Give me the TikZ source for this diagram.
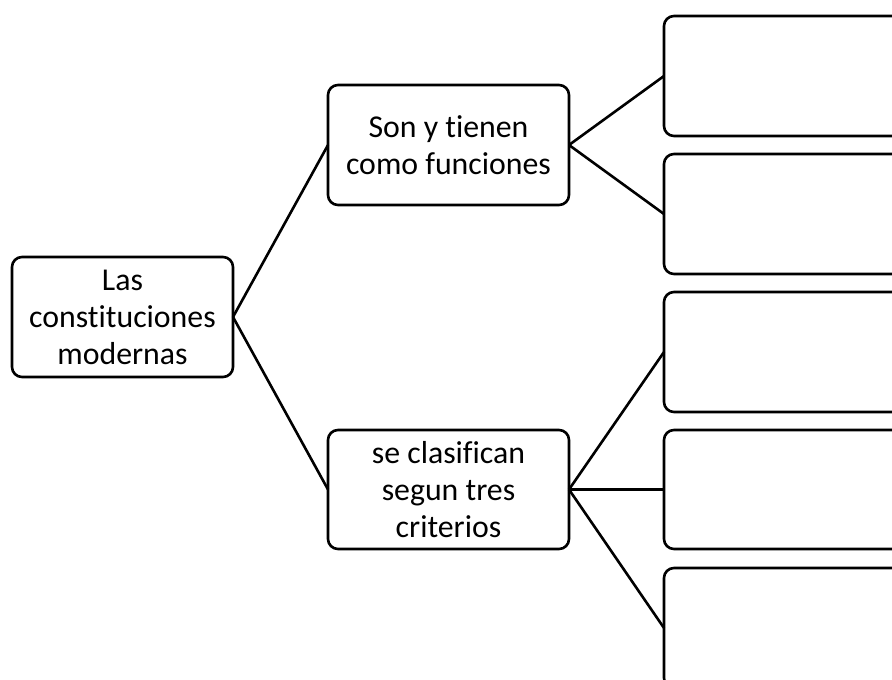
\documentclass[tikz,border=0pt]{standalone}
\usepackage{fontspec}
\setmainfont{Carlito}[Ligatures={NoCommon,NoContextual,NoRequired},RawFeature=-calt]
\begin{document}
\begin{tikzpicture}[x=1pt,y=-1pt,
  box/.style={draw=black, line width=2.6pt, rounded corners=10pt, fill=white,
    minimum width=#1, minimum height=120pt, inner sep=0pt, outer sep=0pt,
    align=center, font=\fontsize{31.8}{37}\selectfont},
  box/.default=241pt,
  conn/.style={draw=black, line width=2.6pt}]
\useasboundingbox (0,0) rectangle (892,680);
\clip (0,0) rectangle (892,680);
\fill[white] (0,0) rectangle (892,680);
\node[box=221pt] (root) at (122.5,317) {Las\\constituciones\\modernas};
\node[box] (top) at (448.5,145) {Son y tienen\\como funciones};
\node[box, minimum height=119pt] (bot) at (448.5,489.5) {se clasifican\\segun tres\\criterios};
\node[box=260pt] (r1) at (794,76) {};
\node[box=260pt] (r2) at (794,214) {};
\node[box=260pt] (r3) at (794,352) {};
\node[box=260pt, minimum height=119pt] (r4) at (794,489.5) {};
\node[box=260pt] (r5) at (794,628) {};
\draw[conn] (root.east) -- (top.west);
\draw[conn] (root.east) -- (bot.west);
\draw[conn] (top.east) -- (r1.west);
\draw[conn] (top.east) -- (r2.west);
\draw[conn] (bot.east) -- (r3.west);
\draw[conn] (bot.east) -- (r4.west);
\draw[conn] (bot.east) -- (r5.west);
\end{tikzpicture}
\end{document}
